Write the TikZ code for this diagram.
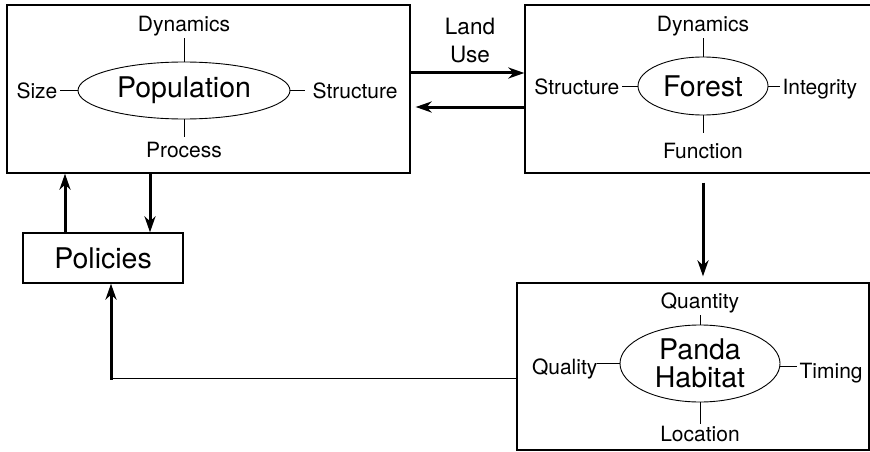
\documentclass[tikz,border=0pt]{standalone}
\usepackage{fontspec}
\setmainfont{TeX Gyre Heros}
\usepackage{tikz}
\usetikzlibrary{shapes.geometric, arrows.meta, positioning}

\begin{document}
\begin{tikzpicture}[
  x=1pt, y=-1pt,
  sysbox/.style={draw, line width=1.3pt, inner sep=0pt},
  sysell/.style={draw, ellipse, line width=0.9pt, inner sep=0pt, align=center, font=\fontsize{28.5}{29}\selectfont},
  lbl/.style={inner sep=2pt, text height=15pt, text depth=4pt, font=\fontsize{21}{25}\selectfont},
  sidelbl/.style={lbl, yshift=-3pt},
  tick/.style={line width=0.9pt},
  bigarrow/.style={line width=3pt, -{Stealth[length=16pt, width=11pt, inset=5pt]}},
  thinline/.style={line width=1pt}
]
  \clip (0,0) rectangle (870,452);

  % Population
  \node[sysbox, minimum width=403, minimum height=168] (popbox) at (208.5, 89) {};
  \node[sysell, minimum width=212, minimum height=57] (popell) at (184, 90.5) {Population};
  \node[lbl, above=24pt of popell] (popdyn) {Dynamics};
  \node[lbl, below=21pt of popell] (popproc) {Process};
  \node[sidelbl, left=18pt of popell] (popsize) {Size};
  \node[sidelbl, right=20pt of popell] (popstruct) {Structure};
  \draw[tick] (popell.north) -- (popdyn.south);
  \draw[tick, shorten >=3pt] (popell.south) -- (popproc.north);
  \draw[tick] (popell.west) -- (popsize.east |- popell.west);
  \draw[tick] (popell.east) -- ([xshift=-5pt]popstruct.west |- popell.east);

  % Forest
  \node[sysbox, minimum width=350, minimum height=168] (forbox) at (700, 89) {};
  \node[sysell, minimum width=130, minimum height=58] (forell) at (703, 86) {Forest};
  \node[lbl, above=19pt of forell] (fordyn) {Dynamics};
  \node[lbl, below=26pt of forell] (forfunc) {Function};
  \node[sidelbl, left=16pt of forell] (forstruct) {Structure};
  \node[sidelbl, right=12pt of forell] (forint) {Integrity};
  \draw[tick] (forell.north) -- (fordyn.south);
  \draw[tick, shorten >=8pt] (forell.south) -- (forfunc.north);
  \draw[tick] (forell.west) -- (forstruct.east |- forell.west);
  \draw[tick] (forell.east) -- (forint.west |- forell.east);

  % Panda habitat
  \node[sysbox, minimum width=352, minimum height=167] (pandabox) at (693, 366.5) {};
  \node[sysell, minimum width=160, minimum height=77, font=\fontsize{28.5}{28}\selectfont] (pandaell) at (700, 363.5) {Panda\\Habitat};
  \node[lbl, above=10pt of pandaell] (pandaqty) {Quantity};
  \node[lbl, below=22pt of pandaell] (pandaloc) {Location};
  \node[sidelbl, left=20pt of pandaell, yshift=-2pt] (pandaqual) {Quality};
  \node[sidelbl, right=17pt of pandaell, yshift=-6pt] (pandatime) {Timing};
  \draw[tick] (pandaell.north) -- (pandaqty.south);
  \draw[tick] (pandaell.south) -- (pandaloc.north);
  \draw[tick] (pandaell.west) -- ([xshift=-3pt]pandaqual.east |- pandaell.west);
  \draw[tick] ([yshift=-3pt]pandaell.east) -- ([yshift=-3pt]pandatime.west |- pandaell.east);

  % Policies
  \node[sysbox, minimum width=160, minimum height=50, font=\fontsize{28.5}{29}\selectfont] (polbox) at (103, 258) {Policies};

  % Land use label
  \node[align=center, font=\fontsize{22.5}{28}\selectfont] (landuse) at (470, 41) {Land\\Use};

  % Connectors
  \draw[bigarrow] ([yshift=16pt]popbox.east) -- ([yshift=16pt]forbox.west);
  \draw[bigarrow, shorten >=5pt] ([yshift=-18pt]forbox.west) -- ([yshift=-18pt]popbox.east);
  \draw[bigarrow] ([xshift=-38pt]polbox.north) -- ([xshift=-38pt]polbox.north |- popbox.south);
  \draw[bigarrow] ([xshift=47pt]polbox.north |- popbox.south) -- ([xshift=47pt]polbox.north);
  \draw[bigarrow, shorten <=9pt, shorten >=6pt] ([xshift=3pt]forbox.south) -- ([xshift=3pt]forbox.south |- pandabox.north);
  \coordinate (bend) at (111, 378);
  \draw[thinline] (bend -| pandabox.west) -- (bend);
  \draw[bigarrow] ([yshift=-1.5pt]bend) -- (bend |- polbox.south);
\end{tikzpicture}
\end{document}
